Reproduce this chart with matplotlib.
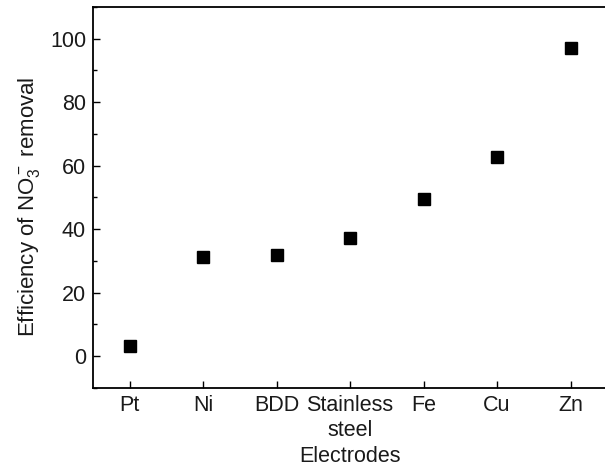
import numpy as np
import matplotlib
matplotlib.use('Agg')
import matplotlib.pyplot as plt
from matplotlib.ticker import MultipleLocator

plt.rcParams['font.family'] = ['Liberation Sans', 'DejaVu Sans']
plt.rcParams['mathtext.fontset'] = 'custom'
plt.rcParams['mathtext.rm'] = 'Liberation Sans'
plt.rcParams['mathtext.it'] = 'Liberation Sans'

## electrode materials and NO3- removal efficiency (%)
electrodes = ['Pt', 'Ni', 'BDD', 'Stainless\nsteel', 'Fe', 'Cu', 'Zn']
efficiency = [3.1, 31.3, 31.8, 37.2, 49.5, 62.8, 97.0]

txt = '#1a1a1a'
fig = plt.figure(figsize=(6.05, 4.70), dpi=100)
ax = fig.add_axes([0.1537, 0.1745, 0.850, 0.8106])

x = np.arange(len(electrodes))
ax.plot(x, efficiency, 's', color='black', ms=8.5, mec='black')

ax.set_xlim(-0.5, 6.5)
ax.set_ylim(-10, 110)
ax.set_xticks(x)
ax.set_xticklabels(electrodes, fontsize=15.5, linespacing=1.25, color=txt)
ax.yaxis.set_major_locator(MultipleLocator(20))
ax.yaxis.set_minor_locator(MultipleLocator(10))
ax.tick_params(axis='both', which='major', direction='in', length=5, width=1,
               labelsize=15.5, pad=5, labelcolor=txt)
ax.tick_params(axis='y', which='minor', direction='in', length=3, width=1)
ax.spines['right'].set_visible(False)
for s in ['left', 'bottom', 'top']:
    ax.spines[s].set_linewidth(1.3)

ax.set_xlabel('Electrodes', fontsize=15.5, color=txt)
ax.xaxis.set_label_coords(0.5, -0.152)
ax.set_ylabel(r'Efficiency of NO$_3^-$ removal', fontsize=16, color=txt)
ax.yaxis.set_label_coords(-0.099, 0.475)

fig.savefig('out.png', dpi=100)
